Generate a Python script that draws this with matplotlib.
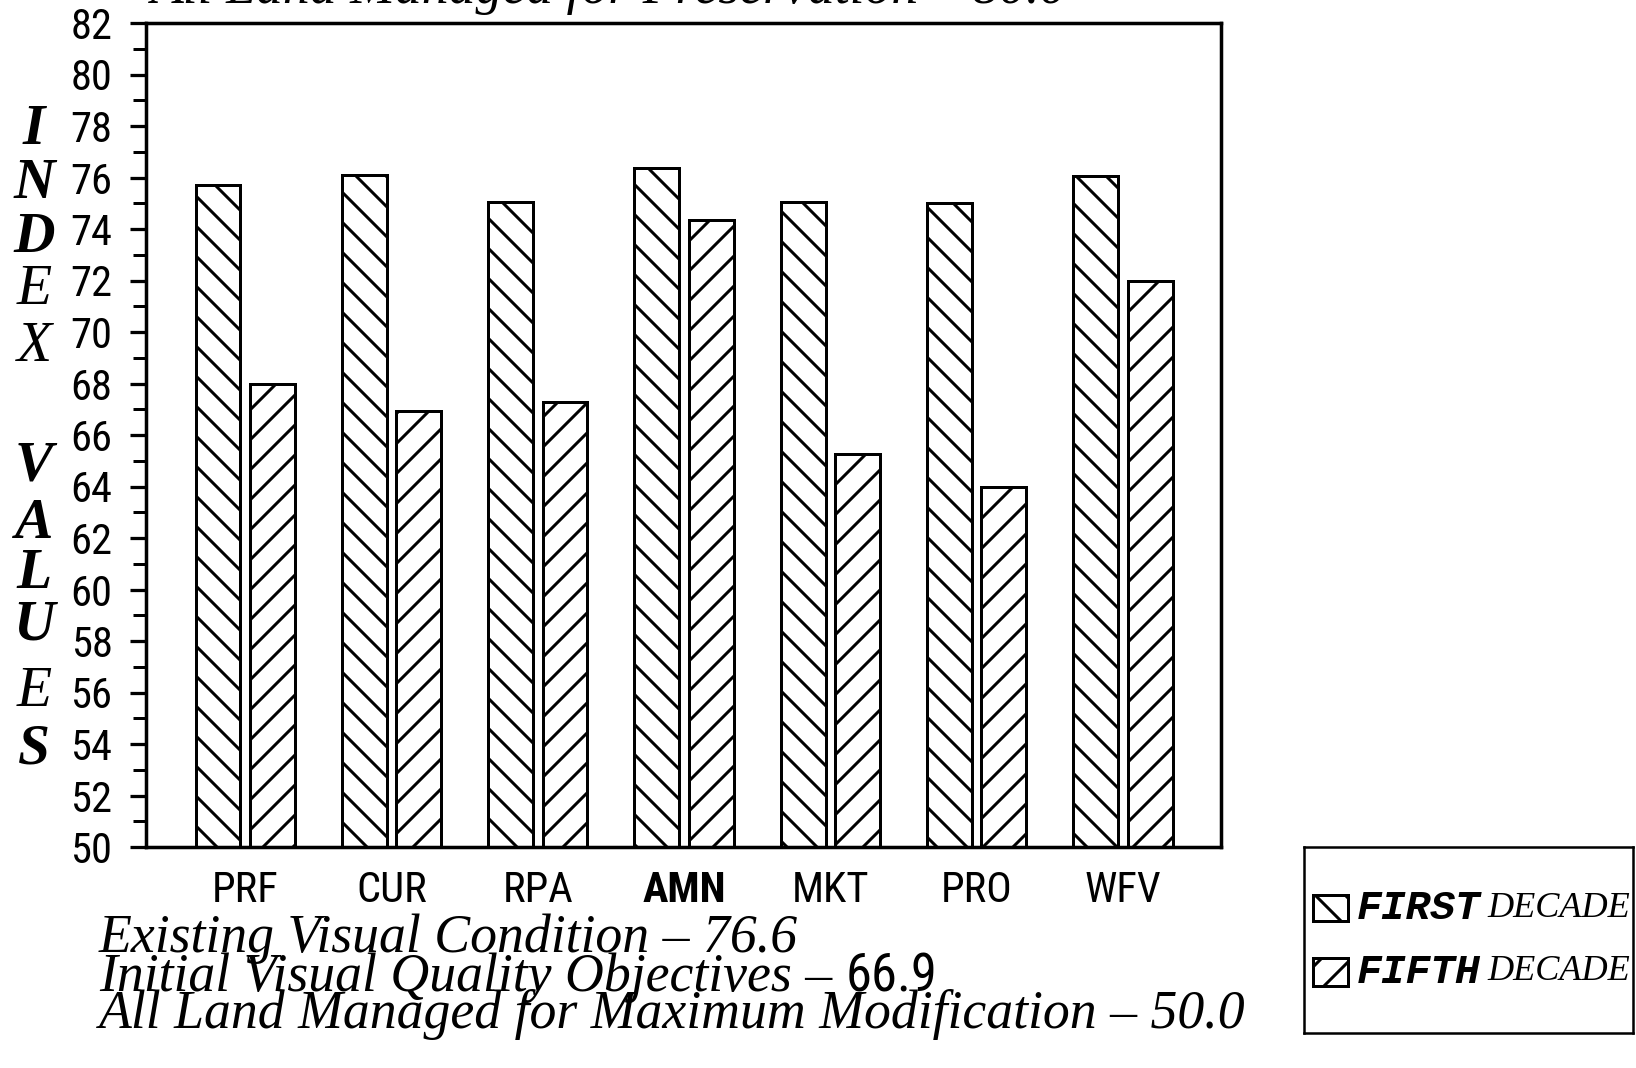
import matplotlib
matplotlib.use("Agg")
import matplotlib.pyplot as plt
from matplotlib.patches import Rectangle
from matplotlib.ticker import MultipleLocator
import numpy as np

# ---- data ----
categories = ["PRF", "CUR", "RPA", "AMN", "MKT", "PRO", "WFV"]
first_decade = [75.7, 76.1, 75.05, 76.35, 75.05, 75.0, 76.05]
fifth_decade = [68.0, 66.95, 67.3, 74.35, 65.25, 64.0, 72.0]
series_labels = [("FIRST", "DECADE"), ("FIFTH", "DECADE")]
ylabel_word1 = "INDEX"
ylabel_word2 = "VALUES"
notes = [
    ("Existing Visual Condition \u2013 76.6", None),
    ("Initial Visual Quality Objectives \u2013 ", "66.9"),
    ("All Land Managed for Maximum Modification \u2013 50.0", None),
]
top_note = "All Land Managed for Preservation \u2013 80.0"

W, H, DPI = 1636, 1068, 180
plt.rcParams["hatch.linewidth"] = 1.2
NARROW = ["Roboto Condensed", "DejaVu Sans Condensed", "Liberation Sans Narrow",
          "Liberation Sans", "DejaVu Sans"]
SERIF = ["Liberation Serif", "DejaVu Serif"]
MONO = ["Liberation Mono", "DejaVu Sans Mono"]

fig = plt.figure(figsize=(W / DPI, H / DPI), dpi=DPI)
ax = fig.add_axes([146 / W, 1 - 847 / H, (1221 - 146) / W, (847 - 23) / H])

x = np.arange(len(categories))
bw = 0.307
off = 0.186
ax.bar(x - off, first_decade, bw, bottom=0, color="white", edgecolor="black",
       linewidth=1.2, hatch="\\\\")
ax.bar(x + off, fifth_decade, bw, bottom=0, color="white", edgecolor="black",
       linewidth=1.2, hatch="//")

ax.set_ylim(50, 82)
ax.set_xlim(-0.678, 6.67)
ax.yaxis.set_major_locator(MultipleLocator(2))
ax.yaxis.set_minor_locator(MultipleLocator(1))
ax.tick_params(axis="y", which="major", direction="out", length=6.4, width=1.3, pad=7)
ax.tick_params(axis="y", which="minor", direction="out", length=5.2, width=1.2)
ax.tick_params(axis="x", length=0, pad=9)
for s in ax.spines.values():
    s.set_linewidth(1.4)

ax.set_xticks(x)
ax.set_xticklabels(categories, fontfamily=NARROW, fontsize=17)
for lbl in ax.get_xticklabels():
    if lbl.get_text() == "AMN":
        lbl.set_fontweight("bold")
for lbl in ax.get_yticklabels():
    lbl.set_fontfamily(NARROW)
    lbl.set_fontsize(17)

# vertical stacked y-axis label
letters = list(ylabel_word1) + list(ylabel_word2)
ys = [130, 184, 238, 290, 347, 466, 524, 574, 626, 692, 749]
bold = [True, True, True, False, False, True, True, True, True, False, True]
for ch, yy, b in zip(letters, ys, bold):
    fig.text(34 / W, 1 - yy / H, ch, ha="center", va="center", fontfamily=SERIF,
             fontstyle="italic", fontweight="bold" if b else "normal", fontsize=23)

# notes under the chart
baselines = [952, 991, 1028]
for (txt, extra), yb in zip(notes, baselines):
    t = fig.text(99 / W, 1 - yb / H, txt, ha="left", va="baseline", fontfamily=SERIF,
                 fontstyle="italic", fontsize=21.5)
    if extra:
        fig.canvas.draw()
        bb = t.get_window_extent()
        fig.text(bb.x1 / W, 1 - yb / H, extra, ha="left", va="baseline",
                 fontfamily=NARROW, fontsize=21)

# clipped note at the very top
fig.text(151 / W, 1 - 3 / H, top_note, ha="left", va="baseline", fontfamily=SERIF,
         fontstyle="italic", fontsize=21.5)

# legend box
lax = fig.add_axes([1304 / W, 1 - 1033 / H, (1633 - 1304) / W, (1033 - 847) / H])
lax.set_xlim(0, 1)
lax.set_ylim(0, 1)
lax.set_xticks([])
lax.set_yticks([])
for s in lax.spines.values():
    s.set_linewidth(1.0)
hatches = ["\\\\", "//"]
rows = [(0.602, 0.742), (0.253, 0.403)]
for (b, t), h, (w1, w2) in zip(rows, hatches, series_labels):
    lax.add_patch(Rectangle((0.027, b), 0.107, t - b, facecolor="white",
                            edgecolor="black", linewidth=1.2, hatch=h))
    yc = (b + t) / 2
    lax.text(0.161, yc, w1, ha="left", va="center", fontfamily=MONO,
             fontstyle="italic", fontweight="bold", fontsize=16.5)
    lax.text(0.556, yc, w2, ha="left", va="center", fontfamily=SERIF,
             fontstyle="italic", fontsize=14.5)

fig.savefig("out.png", dpi=DPI)
